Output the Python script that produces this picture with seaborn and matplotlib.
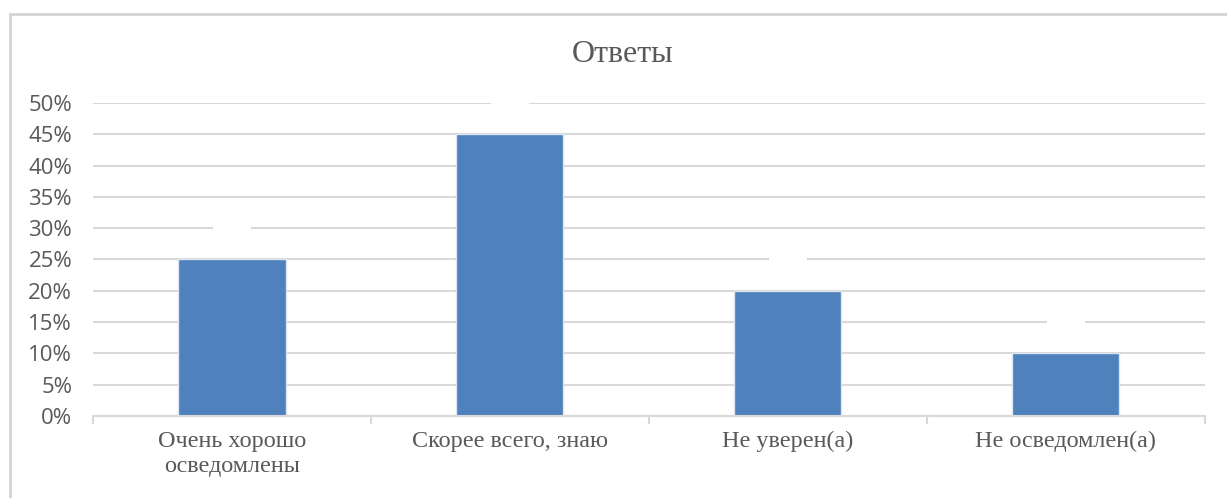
import numpy as np
import pandas as pd
import seaborn as sns
from matplotlib import pyplot as plt
from matplotlib.patches import Rectangle
from matplotlib.ticker import PercentFormatter

# data
categories = ['Очень хорошо\nосведомлены', 'Скорее всего, знаю', 'Не уверен(а)', 'Не осведомлен(а)']
shares = [25, 45, 20, 10]
value_labels = ['25%', '45%', '20%', '10%']
title = 'Ответы'

df = pd.DataFrame({'answer': categories, 'share': shares})

sns.set_theme(style='white')
txt_grey = '#595959'
grid_grey = '#d9d9d9'

fig = plt.figure(figsize=(12.27, 4.98), dpi=100)
ax = fig.add_axes([0.0758, 0.1647, 0.9062, 0.6285])

sns.barplot(data=df, x='answer', y='share', color='#4f81bd', saturation=1,
            width=0.385, edgecolor='#dce6f2', linewidth=1, ax=ax)

ax.set_ylim(0, 50)
ax.set_xlim(-0.5, 3.5)
ax.set_yticks(np.arange(0, 51, 5))
ax.yaxis.set_major_formatter(PercentFormatter(decimals=0))
ax.yaxis.grid(True, color=grid_grey, linewidth=1.5)
ax.set_axisbelow(True)
ax.set_xlabel('')
ax.set_ylabel('')
for s in ['top', 'right', 'left']:
    ax.spines[s].set_visible(False)
ax.spines['bottom'].set_color(grid_grey)
ax.spines['bottom'].set_linewidth(1.5)

ax.tick_params(axis='y', length=0, pad=15, labelsize=16, labelcolor=txt_grey)
for lab in ax.get_yticklabels():
    lab.set_family('Open Sans')
ax.tick_params(axis='x', which='major', length=0, pad=11, labelsize=17.4, labelcolor=txt_grey)
for lab in ax.get_xticklabels():
    lab.set_family('Liberation Serif')
    lab.set_linespacing(1.25)
ax.set_xticks(np.arange(-0.5, 4, 1), minor=True)
ax.tick_params(axis='x', which='minor', bottom=True, length=6, width=1.5, color=grid_grey)

# near-invisible white value labels sitting above bars
for i, (v, lab) in enumerate(zip(shares, value_labels)):
    ax.annotate(lab, (i, v), xytext=(0, 23), textcoords='offset points',
                ha='center', va='center', color='white', fontsize=11,
                bbox=dict(boxstyle='square,pad=0.12', fc='white', ec='none'))

fig.text(0.507, 0.89, title, ha='center', va='center', fontsize=23,
         family='Liberation Serif', color=txt_grey)

# chart frame
fig.patches.append(Rectangle((10 / 1227, -0.1), 1.2, 1 - 14 / 498 + 0.1,
                             transform=fig.transFigure, fill=False,
                             edgecolor='#d4d4d4', linewidth=2))

fig.savefig('out.png', dpi=100)
